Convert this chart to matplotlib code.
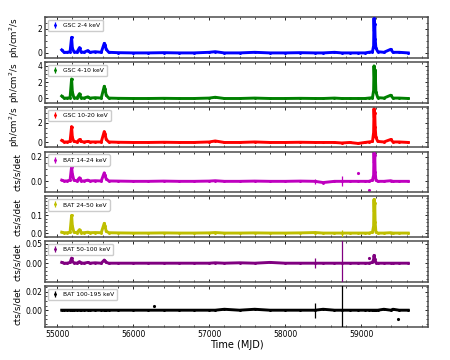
#!/usr/bin/env python3
"""Multi-band light curves (MAXI/GSC and Swift/BAT) stacked on a shared MJD axis."""

import numpy as np
import matplotlib
matplotlib.use('Agg')
import matplotlib.pyplot as plt
from matplotlib.ticker import AutoMinorLocator

# shared time grid (MJD)
T = [55060, 55090, 55130, 55170, 55190, 55200, 55220, 55260, 55295, 55310,
     55350, 55405, 55430, 55500, 55580, 55620, 55630, 55645, 55680, 55800,
     56000, 56200, 56400, 56600, 56800, 57000, 57080, 57200, 57400, 57600,
     57800, 58000, 58200, 58395, 58500, 58650, 58746, 58850, 58960, 59050,
     59100, 59150, 59165, 59170, 59175, 59180, 59185, 59195, 59220, 59300,
     59390, 59420, 59500, 59620]

gsc_2_4 = [0.25, 0.05, 0.05, 0.10, 1.30, 0.40, 0.10, 0.05, 0.45, 0.10,
           0.05, 0.20, 0.05, 0.10, 0.05, 0.80, 0.70, 0.30, 0.05, 0.02,
           0.00, 0.00, 0.02, 0.00, 0.00, 0.05, 0.10, 0.00, 0.00, 0.05,
           0.00, 0.00, 0.02, 0.00, 0.00, 0.05, 0.00, 0.00, 0.00, 0.00,
           0.05, 0.10, 0.60, 2.90, 1.80, 2.40, 1.20, 0.40, 0.10, 0.05,
           0.30, 0.05, 0.05, 0.00]
gsc_4_10 = [0.30, 0.05, 0.05, 0.10, 2.40, 0.80, 0.10, 0.05, 0.60, 0.10,
            0.05, 0.20, 0.05, 0.10, 0.05, 1.50, 1.20, 0.40, 0.05, 0.02,
            0.00, 0.00, 0.02, 0.00, 0.00, 0.05, 0.15, 0.00, 0.00, 0.05,
            0.00, 0.00, 0.02, 0.00, 0.00, 0.05, 0.00, 0.00, 0.00, 0.00,
            0.05, 0.10, 1.00, 4.00, 2.80, 1.70, 3.50, 0.80, 0.10, 0.05,
            0.40, 0.05, 0.05, 0.00]
gsc_10_20 = [0.20, 0.05, 0.05, 0.10, 1.60, 0.50, 0.10, 0.05, 0.30, 0.10,
             0.05, 0.10, 0.05, 0.05, 0.05, 1.10, 0.90, 0.30, 0.05, 0.02,
             0.00, 0.00, 0.02, 0.00, 0.00, 0.05, 0.15, 0.00, 0.00, 0.05,
             0.00, 0.00, 0.02, 0.00, 0.00, 0.00, -0.05, 0.00, -0.10, 0.00,
             0.05, 0.10, 1.00, 3.40, 2.50, 3.00, 1.60, 0.50, 0.10, 0.05,
             0.30, 0.05, 0.05, 0.00]
bat_14_24 = [0.010, 0.003, 0.003, 0.010, 0.120, 0.060, 0.010, 0.003, 0.030, 0.005,
             0.003, 0.010, 0.003, 0.005, 0.003, 0.070, 0.050, 0.020, 0.003, 0.002,
             0.000, 0.000, 0.002, 0.000, 0.000, 0.002, 0.005, 0.000, 0.000, 0.002,
             0.000, 0.000, 0.002, 0.000, -0.010, 0.000, 0.000, 0.000, 0.000, 0.000,
             0.000, 0.010, 0.050, 0.250, 0.150, 0.220, 0.080, 0.010, 0.000, 0.000,
             0.005, 0.000, 0.000, 0.000]
bat_24_50 = [0.005, 0.002, 0.002, 0.005, 0.100, 0.040, 0.005, 0.002, 0.020, 0.003,
             0.002, 0.005, 0.002, 0.003, 0.002, 0.055, 0.040, 0.010, 0.002, 0.001,
             0.000, 0.000, 0.001, 0.000, 0.000, 0.001, 0.003, 0.000, 0.000, 0.001,
             0.000, 0.000, 0.001, 0.003, 0.000, 0.000, 0.000, 0.000, 0.000, 0.000,
             0.000, 0.005, 0.040, 0.190, 0.120, 0.170, 0.060, 0.005, 0.000, 0.000,
             0.002, 0.000, 0.000, 0.000]
bat_50_100 = [0.002, 0.000, 0.000, 0.002, 0.013, 0.005, 0.001, 0.000, 0.004, 0.001,
              0.000, 0.002, 0.000, 0.001, 0.000, 0.008, 0.006, 0.002, 0.000, 0.000,
              0.000, 0.000, 0.000, 0.000, 0.000, 0.000, 0.001, 0.000, 0.001, 0.000,
              0.002, 0.000, 0.000, 0.000, 0.000, 0.000, 0.000, 0.000, 0.000, 0.000,
              0.000, 0.002, 0.010, 0.020, 0.015, 0.010, 0.005, 0.001, 0.000, 0.000,
              0.000, 0.000, 0.000, 0.000]
bat_100_195 = [0.000, 0.000, 0.000, 0.000, 0.000, 0.000, 0.000, 0.000, 0.000, 0.000,
               0.000, 0.000, 0.000, 0.000, 0.000, 0.000, 0.000, 0.000, 0.000, 0.000,
               0.000, 0.000, 0.000, 0.000, 0.000, 0.000, 0.000, 0.001, 0.000, 0.001,
               0.000, 0.000, 0.000, 0.000, 0.001, 0.000, 0.000, 0.000, 0.000, 0.000,
               0.000, 0.000, 0.000, 0.000, 0.000, 0.000, 0.000, 0.000, 0.000, 0.001,
               0.000, 0.001, 0.000, 0.000]

# typical 1-sigma errors and the few very large ones (MJD 58395, 58746)
typ_err = [0.05, 0.06, 0.08, 0.004, 0.003, 0.0015, 0.001]
big_t = [58395, 58746]
big_err = [[0.0, 0.0], [0.0, 0.0], [0.0, 0.0], [0.02, 0.04],
           [0.01, 0.02], [0.012, 0.06], [0.008, 0.03]]

# isolated points standing off the band
out_t = [[], [], [], [58960, 59100], [], [59100], [56280, 59480]]
out_f = [[], [], [], [0.07, -0.07], [], [0.012], [0.004, -0.010]]

labels = ['GSC 2-4 keV', 'GSC 4-10 keV', 'GSC 10-20 keV', 'BAT 14-24 keV',
          'BAT 24-50 keV', 'BAT 50-100 keV', 'BAT 100-195 keV']
ylabels = ['ph/cm$^2$/s'] * 3 + ['cts/s/det'] * 4
colors = ['blue', 'green', 'red', 'm', 'y', 'purple', 'black']
ylims = [(-0.4, 3.0), (-0.5, 4.5), (-0.5, 3.6), (-0.09, 0.245),
         (-0.023, 0.207), (-0.048, 0.056), (-0.018, 0.026)]
yticks = [[0, 2], [0, 2, 4], [0, 2], [0.0, 0.2], [0.0, 0.1],
          [0.00, 0.05], [0.00, 0.02]]
yfmt = ['%d', '%d', '%d', '%.1f', '%.1f', '%.2f', '%.2f']

series = [gsc_2_4, gsc_4_10, gsc_10_20, bat_14_24, bat_24_50, bat_50_100, bat_100_195]


def main():
    fig, axes = plt.subplots(7, 1, sharex=True, figsize=(4.5, 3.6), dpi=100)
    fig.subplots_adjust(left=0.1, right=0.951, top=0.953, bottom=0.092, hspace=0.1)

    t = np.array(T)
    for i, ax in enumerate(axes):
        f = np.array(series[i])
        err = np.full(len(t), typ_err[i])
        for k, bt in enumerate(big_t):
            if big_err[i][k] > 0:
                err[T.index(bt)] = big_err[i][k]
        c = colors[i]
        ax.plot(t, f, '-', color=c, lw=2.1, zorder=2)
        ax.errorbar(t, f, yerr=err, fmt='.', ms=2.2, color=c, ecolor=c,
                    elinewidth=0.9, capsize=0, label=labels[i], zorder=3)
        if out_t[i]:
            ax.plot(out_t[i], out_f[i], '.', ms=2.5, color=c)

        ax.set_xlim(54840, 59880)
        ax.set_ylim(*ylims[i])
        ax.set_yticks(yticks[i])
        ax.set_yticklabels([yfmt[i] % v for v in yticks[i]])
        ax.set_ylabel(ylabels[i], fontsize=6.3, labelpad=2)
        ax.xaxis.set_minor_locator(AutoMinorLocator())
        ax.yaxis.set_minor_locator(AutoMinorLocator())
        ax.tick_params(which='both', direction='in', top=True, right=True,
                       labelsize=5.5, pad=2)
        ax.tick_params(which='major', length=2.5, width=0.6)
        ax.tick_params(which='minor', length=1.3, width=0.5)
        for s in ax.spines.values():
            s.set_linewidth(1.1)
            s.set_color('0.3')
        ax.legend(loc='upper left', fontsize=4.3, handlelength=1.2,
                  borderpad=0.5, handletextpad=0.8, framealpha=1,
                  edgecolor='0.8', fancybox=True)

    axes[-1].set_xticks([55000, 56000, 57000, 58000, 59000])
    axes[-1].set_xlabel('Time (MJD)', fontsize=7, labelpad=1)
    fig.align_ylabels(axes)
    fig.savefig('out.png', dpi=100)
    return 0


if __name__ == "__main__":
    main()
